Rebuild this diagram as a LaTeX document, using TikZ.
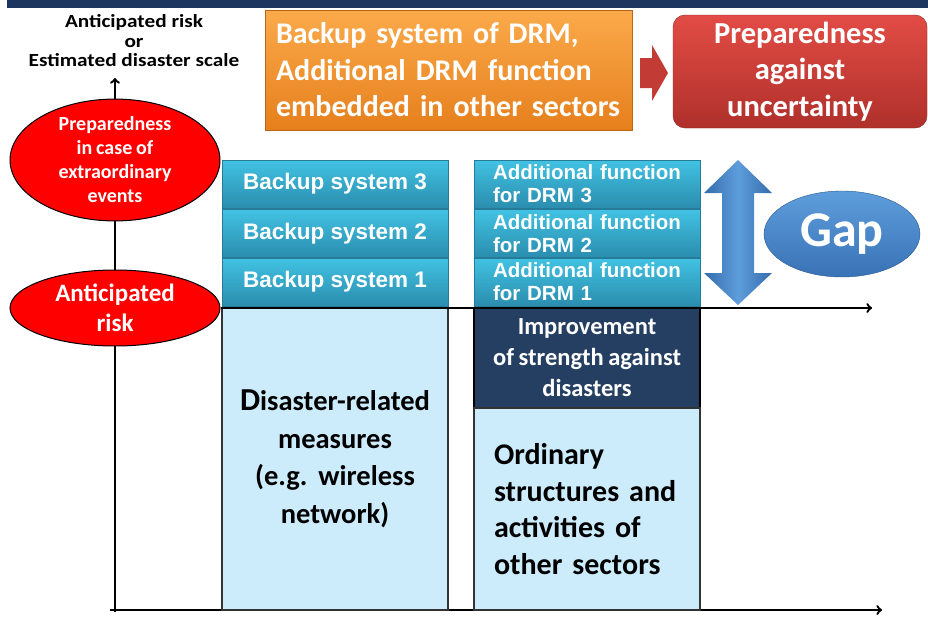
\documentclass[tikz,border=0pt]{standalone}
\usepackage{fontspec}
\setmainfont[WordSpace=0.85]{Carlito}
\newfontfamily\widecalibri[FakeStretch=1.15]{Carlito}
\newfontfamily\arialfont{Liberation Sans}
\usetikzlibrary{shapes.geometric}

\definecolor{bandnavy}{HTML}{1C3660}
\definecolor{tealtop}{HTML}{42C2E3}
\definecolor{tealbot}{HTML}{2A8DAE}
\definecolor{tealedge}{HTML}{267C98}
\definecolor{paleblue}{HTML}{CCEBFB}
\definecolor{boxnavy}{HTML}{253F62}
\definecolor{orangetop}{HTML}{FBAA4B}
\definecolor{orangebot}{HTML}{E67F1C}
\definecolor{redtop}{HTML}{E24C45}
\definecolor{redbot}{HTML}{B0302B}
\definecolor{arrowred}{HTML}{C23B34}
\definecolor{gapblue}{HTML}{3F7FCA}
\definecolor{gaplight}{HTML}{5E9DDC}

\tikzset{
  axisline/.style={line width=2.4pt, ->},
  redoval/.style={ellipse, draw=black, line width=1pt, fill=red, text=white, font=\bfseries, align=center, inner sep=0pt},
  tealbox/.style={draw=tealedge, line width=1pt, top color=tealtop, bottom color=tealbot, text=white,
    minimum width=226, minimum height=48, inner sep=0pt},
  palebox/.style={draw=black!80, line width=1.4pt, fill=paleblue, minimum width=226, inner sep=0pt},
}

\begin{document}
\begin{tikzpicture}[x=1pt, y=-1pt]
\useasboundingbox (0,0) rectangle (928,616);
\fill[bandnavy] (7,0) rectangle (928,8);

\node[align=center, inner sep=0pt, font=\widecalibri\fontsize{18.5}{19.5}\selectfont\bfseries] (ylabel) at (134,41)
  {Anticipated risk\\or\\Estimated disaster scale};
\coordinate (origin) at (115,612);
\coordinate (ytip) at (115,78);
\coordinate (xstart) at (110,610);
\coordinate (xtip) at (882,610);
\draw[axisline] (origin) -- (ytip);
\draw[axisline] (xstart) -- (xtip);

\node[palebox, minimum height=302, align=center, font=\fontsize{28.5}{37.5}\selectfont\bfseries] (measures) at (335,459)
  {{\fontsize{32}{37.5}\selectfont D}isaster-related\\measures\\(e.g.\ \ wireless\\network)};
\node[palebox, draw=black, fill=boxnavy, minimum height=100, text=white, align=center,
  font=\fontsize{24.5}{31}\selectfont\bfseries] (strength) at (587,358)
  {Improvement\\of strength against\\disasters};
\node[palebox, minimum height=202, text width=186, inner xsep=20, align=left,
  font=\fontsize{30}{36.5}\selectfont\bfseries] (ordinary) at (587,509)
  {Ordinary\\structures and\\activities of\\other sectors};

\node[tealbox, font=\arialfont\fontsize{22.5}{24}\selectfont\bfseries] (backup1) at (335,282) {Backup system 1};
\node[tealbox, font=\arialfont\fontsize{22.5}{24}\selectfont\bfseries] (backup2) at (335,233.5) {Backup system 2};
\node[tealbox, font=\arialfont\fontsize{22.5}{24}\selectfont\bfseries] (backup3) at (335,184) {Backup system 3};
\node[tealbox, text width=188, inner xsep=19, align=left, font=\arialfont\fontsize{20.5}{23}\selectfont\bfseries] (addfunc1) at (587,282) {Additional function\\for DRM 1};
\node[tealbox, text width=188, inner xsep=19, align=left, font=\arialfont\fontsize{20.5}{23}\selectfont\bfseries] (addfunc2) at (587,233.5) {Additional function\\for DRM 2};
\node[tealbox, text width=188, inner xsep=19, align=left, font=\arialfont\fontsize{20.5}{23}\selectfont\bfseries] (addfunc3) at (587,184) {Additional function\\for DRM 3};

\node[redoval, minimum width=210, minimum height=104, font=\fontsize{20}{24}\selectfont\bfseries] (extraordinary) at (115,160)
  {Preparedness\\in case of\\extraordinary\\events};
\node[redoval, minimum width=210, minimum height=76, font=\fontsize{25}{30}\selectfont\bfseries] (antrisk) at (115,308)
  {Anticipated\\risk};
\coordinate (midtip) at (872,308);
\draw[axisline] (antrisk.east) -- (midtip);

\node[draw=orangebot!80!black, top color=orangetop, bottom color=orangebot, text=white,
  minimum width=367, minimum height=120, text width=345, inner xsep=11, align=left,
  font=\fontsize{30}{36.5}\selectfont\bfseries] (backupdrm) at (448.5,70)
  {Backup system of DRM,\\Additional DRM function\\embedded in other sectors};
\node[draw=redbot!80!black, top color=redtop, bottom color=redbot, rounded corners=12, text=white,
  minimum width=254, minimum height=113, align=center,
  font=\fontsize{30.5}{36.5}\selectfont\bfseries] (uncertainty) at (800,71.5)
  {Preparedness\\against\\uncertainty};
\fill[arrowred] (640,58) -- (652,58) -- (652,45) -- (668,73) -- (652,101) -- (652,88) -- (640,88) -- cycle;

\shade[left color=gapblue!85!black, right color=gapblue!85!black, middle color=gaplight]
  (738,160) -- (772,193) -- (754,193) -- (754,273) -- (772,273) -- (738,305)
  -- (704,273) -- (722,273) -- (722,193) -- (704,193) -- cycle;
\node[ellipse, draw=gapblue!70!black, top color=gaplight, bottom color=gapblue!90!black, text=white,
  minimum width=156, minimum height=86, inner sep=0pt,
  font=\fontsize{50}{50}\selectfont\bfseries] (gap) at (842,234) {Gap};
\end{tikzpicture}
\end{document}
